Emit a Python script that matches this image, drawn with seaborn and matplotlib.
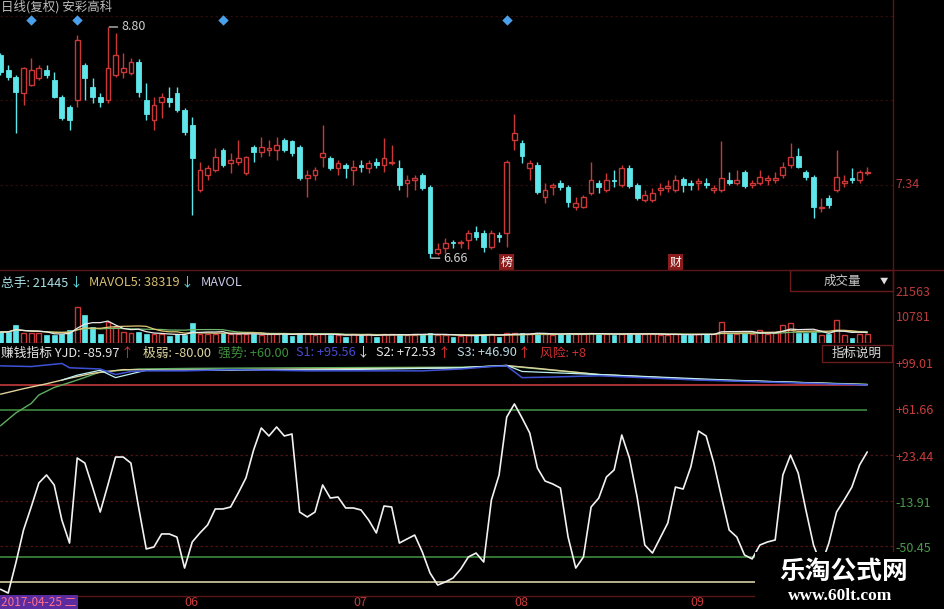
import numpy as np
import pandas as pd
import matplotlib
matplotlib.use("Agg")
import matplotlib.pyplot as plt
import matplotlib.transforms as mtransforms
from matplotlib.patches import Rectangle
from matplotlib.lines import Line2D
import seaborn as sns

W, H = 945, 609

# ---------------- data ----------------
open_px = [8.54, 8.40, 8.34, 8.19, 8.26, 8.33, 8.40, 8.31, 8.15, 8.06,
           8.12, 8.45, 8.24, 8.15, 8.12, 8.36, 8.38, 8.37, 8.48, 8.12,
           7.94, 8.11, 8.14, 8.19, 8.03, 7.89, 7.29, 7.43, 7.48, 7.66,
           7.54, 7.55, 7.45, 7.69, 7.64, 7.66, 7.66, 7.75, 7.74, 7.69,
           7.40, 7.43, 7.60, 7.59, 7.49, 7.52, 7.48, 7.52, 7.49, 7.55,
           7.52, 7.54, 7.49, 7.36, 7.38, 7.43, 7.32, 6.71, 6.75, 6.81,
           6.80, 6.83, 6.90, 6.89, 6.76, 6.87, 6.89, 7.75, 7.73, 7.49,
           7.52, 7.23, 7.32, 7.36, 7.32, 7.13, 7.13, 7.26, 7.36, 7.29,
           7.38, 7.34, 7.49, 7.34, 7.20, 7.20, 7.29, 7.31, 7.29, 7.39,
           7.36, 7.36, 7.36, 7.29, 7.29, 7.38, 7.36, 7.46, 7.34, 7.36,
           7.38, 7.38, 7.43, 7.52, 7.61, 7.46, 7.41, 7.12, 7.22, 7.29,
           7.36, 7.40, 7.38, 7.45]
high_px = [8.56, 8.45, 8.36, 8.43, 8.51, 8.45, 8.45, 8.38, 8.17, 8.08,
           8.73, 8.47, 8.33, 8.19, 8.80, 8.74, 8.56, 8.51, 8.50, 8.28,
           8.15, 8.19, 8.24, 8.24, 8.05, 7.97, 7.55, 7.52, 7.68, 7.68,
           7.63, 7.75, 7.61, 7.71, 7.78, 7.75, 7.78, 7.77, 7.75, 7.71,
           7.48, 7.50, 7.89, 7.61, 7.57, 7.54, 7.57, 7.57, 7.57, 7.59,
           7.77, 7.71, 7.57, 7.43, 7.43, 7.45, 7.34, 6.80, 6.85, 6.83,
           6.83, 6.92, 6.96, 6.92, 6.92, 6.90, 7.57, 7.99, 7.75, 7.57,
           7.55, 7.36, 7.36, 7.38, 7.34, 7.23, 7.24, 7.55, 7.38, 7.45,
           7.48, 7.52, 7.52, 7.36, 7.29, 7.31, 7.36, 7.38, 7.43, 7.41,
           7.38, 7.40, 7.40, 7.34, 7.74, 7.46, 7.48, 7.48, 7.38, 7.48,
           7.43, 7.46, 7.55, 7.73, 7.68, 7.48, 7.43, 7.22, 7.24, 7.66,
           7.43, 7.49, 7.48, 7.50]
low_px = [8.36, 8.31, 7.82, 8.08, 8.25, 8.31, 8.33, 8.14, 7.94, 7.85,
          8.06, 8.12, 8.10, 8.06, 8.10, 8.34, 8.33, 8.36, 8.15, 7.94,
          7.85, 7.96, 8.06, 8.01, 7.80, 7.06, 7.27, 7.38, 7.46, 7.50,
          7.45, 7.52, 7.43, 7.55, 7.60, 7.61, 7.57, 7.64, 7.61, 7.38,
          7.23, 7.38, 7.50, 7.48, 7.43, 7.40, 7.34, 7.46, 7.45, 7.49,
          7.46, 7.52, 7.29, 7.23, 7.29, 7.29, 6.66, 6.69, 6.71, 6.75,
          6.75, 6.74, 6.83, 6.72, 6.74, 6.81, 6.76, 7.66, 7.54, 7.38,
          7.25, 7.17, 7.24, 7.29, 7.13, 7.11, 7.12, 7.24, 7.26, 7.27,
          7.32, 7.32, 7.31, 7.20, 7.18, 7.18, 7.24, 7.27, 7.27, 7.27,
          7.29, 7.29, 7.31, 7.26, 7.27, 7.34, 7.34, 7.31, 7.31, 7.34,
          7.34, 7.36, 7.40, 7.49, 7.49, 7.38, 7.03, 7.09, 7.12, 7.27,
          7.32, 7.36, 7.36, 7.43]
close_px = [8.38, 8.34, 8.20, 8.42, 8.40, 8.42, 8.36, 8.15, 7.96, 7.94,
            8.68, 8.33, 8.15, 8.11, 8.42, 8.54, 8.42, 8.48, 8.20, 7.99,
            8.08, 8.15, 8.11, 8.03, 7.83, 7.59, 7.48, 7.49, 7.60, 7.52,
            7.57, 7.59, 7.60, 7.64, 7.69, 7.68, 7.71, 7.66, 7.63, 7.40,
            7.43, 7.48, 7.63, 7.49, 7.54, 7.49, 7.50, 7.50, 7.54, 7.52,
            7.59, 7.55, 7.34, 7.38, 7.40, 7.31, 6.71, 6.74, 6.80, 6.80,
            6.81, 6.89, 6.86, 6.76, 6.89, 6.86, 7.55, 7.82, 7.61, 7.54,
            7.27, 7.29, 7.34, 7.32, 7.18, 7.17, 7.23, 7.38, 7.32, 7.38,
            7.37, 7.49, 7.33, 7.22, 7.24, 7.26, 7.31, 7.33, 7.38, 7.34,
            7.34, 7.37, 7.34, 7.31, 7.40, 7.36, 7.38, 7.33, 7.36, 7.41,
            7.40, 7.40, 7.50, 7.60, 7.50, 7.41, 7.13, 7.13, 7.15, 7.41,
            7.37, 7.38, 7.46, 7.46]
volume = [4730, 4810, 7740, 4300, 4350, 4300, 3440, 3480, 3870, 5590,
          15480, 12040, 6880, 3870, 9030, 6880, 4730, 4300, 4730, 3870,
          3870, 3900, 3010, 3870, 3440, 8600, 3870, 3900, 3870, 4300,
          3870, 3900, 3870, 3870, 3440, 3870, 3900, 4300, 3010, 4300,
          3870, 3440, 3870, 3440, 3480, 2580, 3870, 3440, 3870, 2580,
          3870, 3900, 3870, 3440, 3480, 3870, 4300, 3440, 3480, 2580,
          3010, 3440, 3480, 3870, 3900, 2580, 4300, 4350, 4300, 3870,
          4300, 3870, 3440, 3870, 4300, 3870, 3900, 4300, 3870, 3900,
          3440, 3870, 4300, 3870, 3900, 3870, 3440, 3480, 3870, 3440,
          3480, 3870, 3900, 3870, 9030, 3870, 3900, 4300, 3870, 5590,
          3870, 4300, 7740, 8600, 4300, 4350, 4730, 3440, 3870, 9890,
          3440, 2150, 3870, 3900]
yjd = [-85.97, -89.0, -64.6, -37.8, -19.1, 0.4, 6.9, -1.2, -29.7, -48.4,
       20.7, 16.6, -2.9, -23.2, -1.2, 21.5, 21.5, 16.6, -19.1, -53.2,
       -51.6, -41.0, -41.0, -43.5, -68.7, -47.5, -40.2, -33.7, -20.7, -20.7,
       -19.1, -7.7, 4.5, 27.2, 45.1, 38.6, 45.9, 38.6, 40.2, -23.2,
       -27.2, -23.2, -1.2, -11.8, -11.0, -19.9, -19.9, -21.5, -29.7, -40.2,
       -18.3, -19.1, -48.4, -45.1, -41.9, -55.7, -72.7, -82.5, -80.0, -76.8,
       -69.5, -59.7, -56.5, -63.8, -13.4, 6.9, 54.0, 64.6, 53.2, 41.0,
       12.6, 2.0, -0.4, -3.7, -43.5, -68.7, -59.7, -19.1, -11.8, 5.3,
       11.0, 39.4, 20.7, -11.0, -50.0, -56.5, -44.3, -32.1, -2.9, -4.5,
       13.4, 42.6, 38.6, 16.6, -11.0, -37.8, -43.5, -58.1, -61.3, -50.0,
       -47.5, -45.9, 6.9, 23.1, 8.5, -21.5, -50.0, -66.2, -48.4, -23.2,
       -13.4, -2.9, 15.0, 25.6]

s1_idx = [0, 4, 8, 9, 13, 15, 17, 19, 24, 30, 40, 55, 60, 64, 66, 68, 72, 78, 91, 113]
s1_val = [95.56, 95.0, 97.5, 94.0, 93.0, 88.5, 91.0, 91.5, 91.5, 92.5, 91.5, 91.5, 93.0, 95.0, 95.5, 86.0, 86.5, 87.5, 84.0, 80.0]
s2_idx = [0, 3, 6, 9, 12, 16, 22, 40, 60, 66, 70, 78, 91, 113]
s2_val = [72.53, 77.0, 81.0, 85.5, 89.5, 92.5, 92.0, 93.0, 94.0, 95.8, 93.5, 88.5, 84.5, 80.3]
s3_idx = [0, 2, 4, 5, 7, 10, 13, 18, 25, 40, 60, 66, 72, 78, 91, 113]
s3_val = [46.90, 57.3, 65.0, 71.9, 78.0, 84.0, 90.6, 93.0, 93.5, 94.0, 94.5, 95.5, 92.0, 88.5, 84.3, 80.6]
s4_idx = [8, 10, 13, 15, 17, 19, 30, 45, 60, 66, 68, 80, 95, 113]
s4_val = [84.0, 88.0, 92.0, 86.0, 89.0, 92.0, 92.0, 92.5, 94.0, 96.0, 91.0, 88.0, 84.0, 80.2]

diamond_idx = [4, 10, 29, 66]
event_labels = ["榜", "财"]
event_idx = [66, 88]
month_labels = ["06", "07", "08", "09"]
month_idx = [24, 46, 67, 90]
first_date = "2017-04-25 二"
stock_title = "日线(复权) 安彩高科"
last_price = 7.34
price_grid = [8.90, 8.12, 7.34]
vol_ticks = [21563, 10781]
vol_header = {"总手": 21445, "MAVOL5": 38319}
ind_ticks = [99.01, 61.66, 23.44, -13.91, -50.45]
ind_tick_colors = ["#c83c3c", "#c83c3c", "#c83c3c", "#4a9a4a", "#4a9a4a"]
level_vals = [80, 60, -60, -80]
level_colors = ["#c43a3a", "#3d8a3d", "#3d8a3d", "#d8d0a0"]
weak_level, strong_level, risk_level = -80.00, 60.00, 8

# ---------------- style ----------------
sns.set_theme(style="dark", rc={"axes.facecolor": "black", "figure.facecolor": "black",
                                "savefig.facecolor": "black"})
plt.rcParams["font.family"] = ["Noto Sans CJK SC", "DejaVu Sans"]
plt.rcParams["axes.unicode_minus"] = False

RED = "#cc3838"
CYAN = "#5fe6ea"
DARKRED = "#5a1616"

fig = plt.figure(figsize=(W / 100, H / 100), dpi=100)


def rect(x0, y0, x1, y1):
    return [x0 / W, 1 - y1 / H, (x1 - x0) / W, (y1 - y0) / H]


def fpos(x, y):
    return x / W, 1 - y / H


n = len(close_px)
idx = np.arange(n)
o = np.array(open_px); c = np.array(close_px)
hi = np.array(high_px); lo = np.array(low_px)
vol = np.array(volume, dtype=float)
up = c >= o
XLIM = (-0.065, 116.36)

ax_p = fig.add_axes(rect(0, 0, 893, 270))
ax_v = fig.add_axes(rect(0, 270, 893, 343))
ax_i = fig.add_axes(rect(0, 345, 893, 596))
for ax in (ax_p, ax_v, ax_i):
    ax.set_facecolor("black")
    ax.set_xlim(*XLIM)
    for s in ax.spines.values():
        s.set_visible(False)
    ax.set_xticks([]); ax.set_yticks([])
    ax.grid(False)
    ax.set_xlabel(""); ax.set_ylabel("")

# ---------------- price panel ----------------
ax_p.set_ylim(6.55, 9.05)
for g in price_grid:
    ax_p.axhline(g, color="#2e0b0b", lw=0.9, ls=(0, (2, 2)), zorder=0)
wick_col = np.where(up, RED, CYAN)
ax_p.vlines(idx, lo, hi, colors=wick_col, lw=1.0, zorder=2)
body_bot = np.minimum(o, c)
body_h = np.maximum(np.abs(c - o), 0.012)
ax_p.bar(idx[up], body_h[up], bottom=body_bot[up], width=0.62, facecolor="black",
         edgecolor=RED, linewidth=1.0, zorder=3)
ax_p.bar(idx[~up], body_h[~up], bottom=body_bot[~up], width=0.62, facecolor=CYAN,
         edgecolor=CYAN, linewidth=0.6, zorder=3)

bt = mtransforms.blended_transform_factory(ax_p.transData, ax_p.transAxes)
ax_p.scatter(diamond_idx, [1 - 20 / 270] * len(diamond_idx), marker="D", s=28,
             color="#4aa0ea", transform=bt, zorder=4, linewidths=0)
for lab, ei in zip(event_labels, event_idx):
    ax_p.text(ei, 1 - 262 / 270, lab, transform=bt, ha="center", va="center",
              color="white", fontsize=8.5,
              bbox=dict(facecolor="#8c1c1c", edgecolor="none", pad=1.2))

i_hi = int(np.argmax(hi)); i_lo = int(np.argmin(lo))
ax_p.annotate(f"{hi[i_hi]:.2f}", xy=(i_hi, hi[i_hi]), xytext=(13, 0),
              textcoords="offset pixels", ha="left", va="center", color="#d0d0d0",
              fontsize=9, arrowprops=dict(arrowstyle="-", color="#d0d0d0", lw=0.9,
                                          shrinkA=0, shrinkB=1))
ax_p.annotate(f"{lo[i_lo]:.2f}", xy=(i_lo, lo[i_lo]), xytext=(13, 0),
              textcoords="offset pixels", ha="left", va="center", color="#d0d0d0",
              fontsize=9, arrowprops=dict(arrowstyle="-", color="#d0d0d0", lw=0.9,
                                          shrinkA=0, shrinkB=1))
ax_p.text(1.003, last_price, f"{last_price:.2f}",
          transform=mtransforms.blended_transform_factory(ax_p.transAxes, ax_p.transData),
          ha="left", va="center", color="#b83c3c", fontsize=9)

# ---------------- volume panel ----------------
ax_v.set_ylim(0, 73 * 431)
ax_v.bar(idx[up], vol[up], width=0.62, facecolor="black", edgecolor=RED, linewidth=1.0, zorder=3)
ax_v.bar(idx[~up], vol[~up], width=0.62, facecolor=CYAN, edgecolor=CYAN, linewidth=0.5, zorder=3)
vs = pd.Series(vol)
sns.lineplot(x=idx, y=vs.rolling(20, min_periods=1).mean().values, ax=ax_v,
             color="#6cb86c", lw=0.9, zorder=4)
sns.lineplot(x=idx, y=vs.rolling(10, min_periods=1).mean().values, ax=ax_v,
             color="#e3c874", lw=0.9, zorder=4)
sns.lineplot(x=idx, y=vs.rolling(5, min_periods=1).mean().values, ax=ax_v,
             color="#e8e8e8", lw=0.9, zorder=5)
ax_v.set_xlabel(""); ax_v.set_ylabel("")
vt = mtransforms.blended_transform_factory(ax_v.transAxes, ax_v.transData)
for v in vol_ticks:
    ax_v.text(1.003, v, f"{v}", transform=vt, ha="left", va="center",
              color="#b83c3c", fontsize=9)

# ---------------- indicator panel ----------------
ax_i.set_ylim(-91.4, 112.5)
ax_i.hlines(ind_ticks[2:], XLIM[0], XLIM[1], colors="#4e1212", lw=0.9,
            linestyles=(0, (2, 2)), zorder=0)
ax_i.hlines(level_vals, 0, n - 1, colors=level_colors, lw=1.2, zorder=1)
sns.lineplot(x=s3_idx, y=s3_val, ax=ax_i, color="#5fae5f", lw=1.0, zorder=2)
sns.lineplot(x=s2_idx, y=s2_val, ax=ax_i, color="#e0d09c", lw=1.0, zorder=2)
sns.lineplot(x=s4_idx, y=s4_val, ax=ax_i, color="#bfeff2", lw=0.9, zorder=2)
sns.lineplot(x=s1_idx, y=s1_val, ax=ax_i, color="#3f52d6", lw=1.1, zorder=3)
sns.lineplot(x=idx, y=yjd, ax=ax_i, color="#f2f2f2", lw=1.2, zorder=4)
ax_i.set_xlabel(""); ax_i.set_ylabel("")
it = mtransforms.offset_copy(
    mtransforms.blended_transform_factory(ax_i.transAxes, ax_i.transData),
    fig=fig, x=0, y=-3, units="dots")
for v, col in zip(ind_ticks, ind_tick_colors):
    ax_i.text(1.003, v, f"{v:+.2f}", transform=it, ha="left", va="center",
              color=col, fontsize=9)

# month labels
mt = mtransforms.blended_transform_factory(ax_i.transData, fig.transFigure)
for lab, mi in zip(month_labels, month_idx):
    ax_i.text(mi, 1 - 603 / H, lab, transform=mt, ha="left", va="center",
              color="#c83c3c", fontsize=9, clip_on=False)

# ---------------- frame lines ----------------
for (x0, y0, x1, y1) in [(0, 270, W, 270), (0, 596, W, 596), (893, 0, 893, 596)]:
    fig.add_artist(Line2D([x0 / W, x1 / W], [1 - y0 / H, 1 - y1 / H],
                          color=DARKRED, lw=1.0, transform=fig.transFigure))
fig.add_artist(Rectangle(fpos(790, 291), 103 / W, 21 / H, transform=fig.transFigure,
                         facecolor="black", edgecolor="#6a1c1c", lw=1.0))
fig.text(*fpos(842, 281), "成交量", color="#c8c8c8", fontsize=9, ha="center", va="center")
fig.text(*fpos(884, 281), "▼", color="#dddddd", fontsize=6, ha="center", va="center")
fig.add_artist(Rectangle(fpos(822, 362), 70 / W, 17 / H, transform=fig.transFigure,
                         facecolor="black", edgecolor="#6a1c1c", lw=1.0))
fig.text(*fpos(857, 353), "指标说明", color="#dcdcdc", fontsize=9, ha="center", va="center")

# ---------------- header texts ----------------
fig.text(*fpos(1, 7), stock_title, color="#bdbdbd", fontsize=9, ha="left", va="center")

renderer = fig.canvas.get_renderer()


def seq(x, y, pieces, size=9.2):
    for s, col, gap in pieces:
        t = fig.text(x / W, 1 - y / H, s, color=col, fontsize=size, ha="left", va="center")
        bb = t.get_window_extent(renderer)
        x = x + bb.width + gap


seq(1, 283, [(f"总手: {vol_header['总手']}", "#a8dfe6", 1),
             ("↓", "#5fe6ea", 7),
             (f"MAVOL5: {vol_header['MAVOL5']}", "#d9c070", 1),
             ("↓", "#5fe6ea", 7),
             ("MAVOL", "#c8c8e8", 0)])

seq(1, 353, [(f"赚钱指标 YJD: {yjd[0]:.2f}", "#e6e6e6", 1),
             ("↑", "#e03030", 10),
             (f"极弱: {weak_level:.2f}", "#ded6a0", 7),
             (f"强势: {strong_level:+.2f}", "#3d8f3d", 7),
             (f"S1: {s1_val[0]:+.2f}", "#4b4bd0", 1),
             ("↓", "#e6e6e6", 7),
             (f"S2: {s2_val[0]:+.2f}", "#e6e6e6", 1),
             ("↑", "#e03030", 7),
             (f"S3: {s3_val[0]:+.2f}", "#bcd8e2", 1),
             ("↑", "#e03030", 10),
             (f"风险: {risk_level:+d}", "#d03030", 0)], size=9.2)

# first date box
fig.text(*fpos(1, 603), first_date, color="#ff6f8f", fontsize=8.5, ha="left", va="center",
         bbox=dict(facecolor="#5a2ca0", edgecolor="none", pad=1.2))

# ---------------- watermark ----------------
fig.add_artist(Rectangle(fpos(755, 609), 190 / W, 57 / H, transform=fig.transFigure,
                         facecolor="black", edgecolor="none", zorder=10))
fig.text(*fpos(844, 571), "乐淘公式网", color="white", fontsize=18.5, fontweight="bold",
         ha="center", va="center", zorder=11)
fig.text(*fpos(840, 596), "www.60lt.com", color="white", fontsize=12.5, fontweight="bold",
         family=["Liberation Serif", "DejaVu Serif"], ha="center", va="center", zorder=11)

fig.savefig("out.png", dpi=100, facecolor="black")
